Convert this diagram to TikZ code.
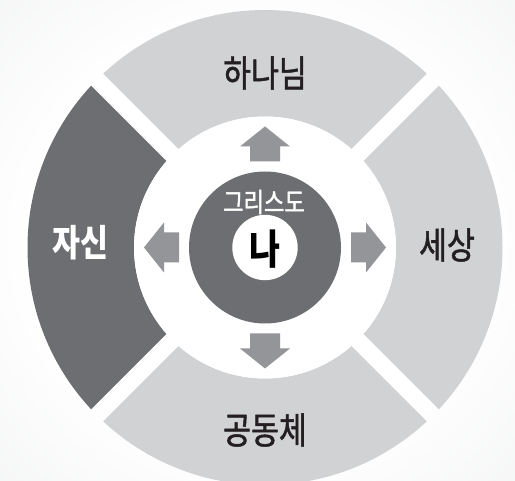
\documentclass[tikz,border=0pt]{standalone}
\usepackage{fontspec}
\newfontfamily\kr[FakeStretch=0.82]{Noto Sans CJK KR}
\newfontfamily\krm[FakeStretch=0.82,FakeBold=1.3]{Noto Sans CJK KR}
\definecolor{bggray}{HTML}{ECEDEE}
\definecolor{lightsec}{HTML}{D1D2D4}
\definecolor{darksec}{HTML}{6D6E71}
\definecolor{arrowgray}{HTML}{939598}
\definecolor{txt}{HTML}{231F20}
\pgfdeclareradialshading{bgshade}{\pgfpoint{0bp}{0bp}}{color(0bp)=(white); color(22bp)=(white); color(50bp)=(bggray); color(75bp)=(bggray)}
\tikzset{
  lbl/.style={font=\krm\fontsize{37}{40}\selectfont, text=txt, inner sep=0pt},
  lblw/.style={font=\kr\bfseries\fontsize{37}{40}\selectfont, text=white, inner sep=0pt},
}
\begin{document}
\begin{tikzpicture}[x=1pt,y=-1pt]
\useasboundingbox (0,0) rectangle (515,481);
\shade[shading=bgshade] (0,0) rectangle (515,481);
\coordinate (C) at (265,247.5);
% sectors
\foreach \a/\col in {0/lightsec,90/darksec,180/lightsec,270/lightsec}{
  \begin{scope}[shift={(C)}, rotate=\a]
    \clip (0,-12.2) -- (-330,-342.2) -- (330,-342.2) -- cycle;
    \fill[\col, even odd rule] (0,0) circle[radius=237.5] (0,0) circle[radius=131];
  \end{scope}
}
% white ring
\fill[white] (C) circle[radius=131];
% arrows
\foreach \a in {0,90,180,270}{
  \fill[arrowgray, shift={(C)}, rotate=\a]
    (86,-15) -- (101,-15) -- (101,-25) -- (121,0) -- (101,25) -- (101,15) -- (86,15) -- cycle;
}
% center circles
\fill[darksec] (C) circle[radius=76];
\fill[white] (C) circle[radius=32.7];
% labels
\node[lbl] (god) at (265,73) {하나님};
\node[lbl] (world) at (447,245) {세상};
\node[lblw] (self) at (80,243) {자신};
\node[lbl] (comm) at (265,430) {공동체};
\node[font=\krm\fontsize{27}{30}\selectfont, text=white, inner sep=0pt] (christ) at (264,202) {그리스도};
\node[font=\kr\bfseries\fontsize{41}{44}\selectfont, text=black, inner sep=0pt] (me) at (265,249) {나};
\end{tikzpicture}
\end{document}
